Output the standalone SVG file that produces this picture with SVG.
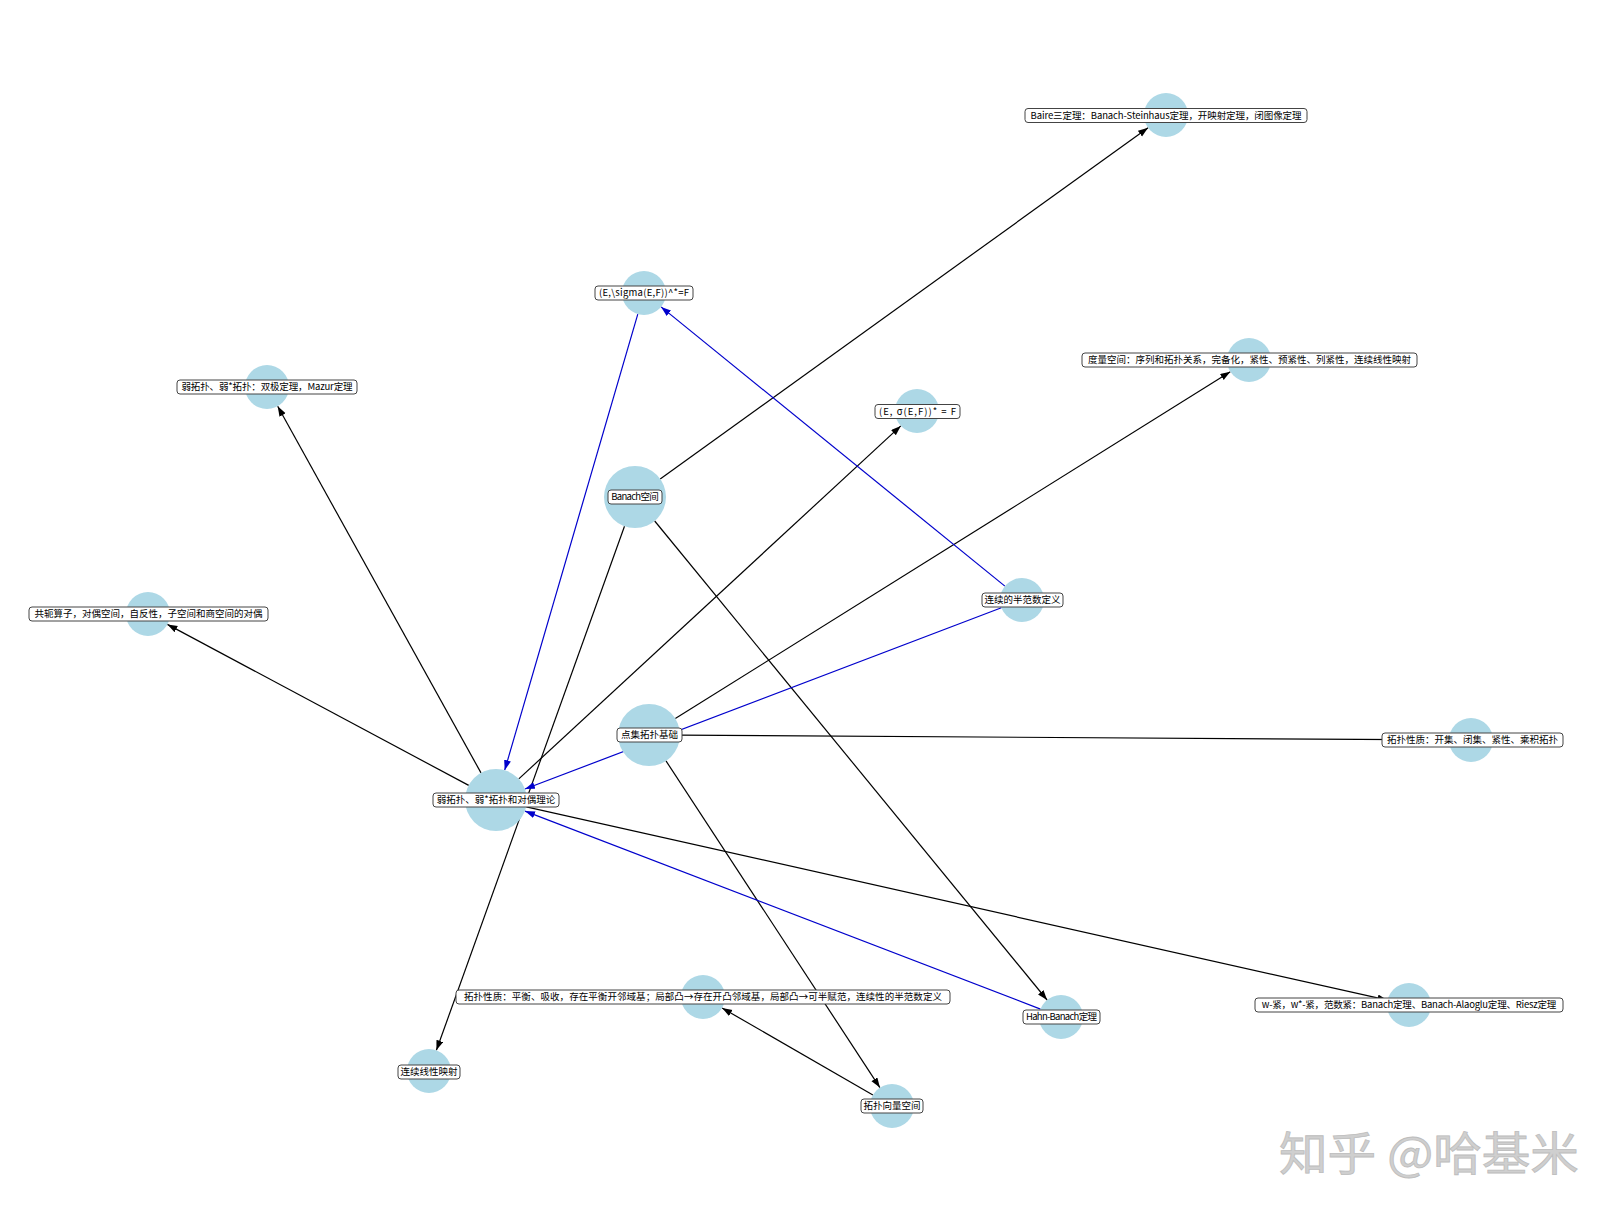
<svg xmlns="http://www.w3.org/2000/svg" width="1620" height="1220" viewBox="0 0 1620 1220">
<style>
.e{stroke:#000;stroke-width:1.2;fill:none;marker-end:url(#ab)}
.b{stroke:#0000cc;stroke-width:1.2;fill:none;marker-end:url(#au)}
.n{fill:#add8e6}
.lb{fill:#fff;stroke:#444;stroke-width:1}
.t{font-family:"Noto Sans CJK SC","Noto Sans CJK JP",sans-serif;font-size:9.5px;fill:#000;text-anchor:middle}
.wm{font-family:"Noto Sans CJK SC",sans-serif;font-size:46px;fill:#cfcfcf;stroke:#bdbdbd;stroke-width:0.8}
</style>
<defs>
<marker id="ab" markerUnits="userSpaceOnUse" markerWidth="11" markerHeight="8" refX="10" refY="3.5" orient="auto"><path d="M0,0 L10,3.5 L0,7 z" fill="#000"/></marker>
<marker id="au" markerUnits="userSpaceOnUse" markerWidth="11" markerHeight="8" refX="10" refY="3.5" orient="auto"><path d="M0,0 L10,3.5 L0,7 z" fill="#0000cc"/></marker>
</defs>
<rect width="1620" height="1220" fill="#fff"/>
<g id="edges">
<line class="e" x1="660.2" y1="478.9" x2="1148.1" y2="127.8"/>
<line class="e" x1="624.5" y1="526.2" x2="436.4" y2="1050.3"/>
<line class="e" x1="654.7" y1="521.0" x2="1047.1" y2="1000.0"/>
<line class="e" x1="481.0" y1="772.9" x2="277.7" y2="406.3"/>
<line class="e" x1="468.7" y1="785.4" x2="167.4" y2="624.4"/>
<line class="e" x1="518.8" y1="778.9" x2="900.8" y2="425.9"/>
<line class="e" x1="675.3" y1="718.6" x2="1230.3" y2="371.7"/>
<line class="e" x1="680" y1="735.2" x2="1449" y2="739.9"/>
<line class="e" x1="666.0" y1="760.9" x2="879.9" y2="1087.6"/>
<line class="e" x1="872.9" y1="1095" x2="722.1" y2="1008"/>
<line class="e" x1="526.3" y1="806.8" x2="1387.5" y2="1000.2"/>
<line class="b" x1="637.8" y1="314.1" x2="504.7" y2="770.2"/>
<line class="b" x1="1004.9" y1="586.1" x2="661.1" y2="306.9"/>
<line class="b" x1="1001.4" y1="607.8" x2="525.0" y2="789.0"/>
<line class="b" x1="1040.5" y1="1009.1" x2="525.0" y2="811.1"/>
</g>
<g id="n-baire"><circle class="n" cx="1166" cy="115" r="22"/><rect class="lb" x="1025" y="108.5" width="282" height="14" rx="3"/><text class="t" x="1166" y="118.8" textLength="271">Baire三定理：Banach-Steinhaus定理，开映射定理，闭图像定理</text></g>
<g id="n-esig1"><circle class="n" cx="644" cy="293" r="22"/><rect class="lb" x="595" y="286" width="98" height="14" rx="3"/><text class="t" x="644" y="296.3" textLength="90">(E,\sigma(E,F))^*=F</text></g>
<g id="n-bipolar"><circle class="n" cx="267" cy="387" r="22"/><rect class="lb" x="177" y="380" width="180" height="14" rx="3"/><text class="t" x="267" y="390.3" textLength="171">弱拓扑、弱*拓扑：双极定理，Mazur定理</text></g>
<g id="n-metric"><circle class="n" cx="1249" cy="360" r="22"/><rect class="lb" x="1082" y="353" width="335" height="14" rx="3"/><text class="t" x="1249.5" y="363.3" textLength="323">度量空间：序列和拓扑关系，完备化，紧性、预紧性、列紧性，连续线性映射</text></g>
<g id="n-esig2"><circle class="n" cx="917" cy="411" r="22"/><rect class="lb" x="875" y="404.5" width="85" height="14" rx="3"/><text class="t" x="917.5" y="414.8" textLength="77">(E, σ(E,F))* = F</text></g>
<g id="n-conj"><circle class="n" cx="148" cy="614" r="22"/><rect class="lb" x="29" y="607" width="239" height="14" rx="3"/><text class="t" x="148.5" y="617.3" textLength="228">共轭算子，对偶空间，自反性，子空间和商空间的对偶</text></g>
<g id="n-banach"><circle class="n" cx="635" cy="497" r="31"/><rect class="lb" x="608" y="490" width="54" height="14" rx="3"/><text class="t" x="635" y="500.3" textLength="47.5">Banach空间</text></g>
<g id="n-semi"><circle class="n" cx="1022" cy="600" r="22"/><rect class="lb" x="982" y="593" width="81" height="14" rx="3"/><text class="t" x="1022.5" y="603.3" textLength="76">连续的半范数定义</text></g>
<g id="n-pt"><circle class="n" cx="649" cy="735" r="31"/><rect class="lb" x="617" y="728" width="65" height="14" rx="3"/><text class="t" x="649.5" y="738.3" textLength="57">点集拓扑基础</text></g>
<g id="n-topopen"><circle class="n" cx="1471" cy="740" r="22"/><rect class="lb" x="1382" y="733" width="181" height="14" rx="3"/><text class="t" x="1472.5" y="743.3" textLength="171">拓扑性质：开集、闭集、紧性、乘积拓扑</text></g>
<g id="n-weak"><circle class="n" cx="496" cy="800" r="31"/><rect class="lb" x="433" y="793" width="126" height="14" rx="3"/><text class="t" x="496" y="803.3" textLength="118.7">弱拓扑、弱*拓扑和对偶理论</text></g>
<g id="n-topbal"><circle class="n" cx="703" cy="997" r="22"/><rect class="lb" x="456" y="990" width="494" height="14" rx="3"/><text class="t" x="703" y="1000.3" textLength="478">拓扑性质：平衡、吸收，存在平衡开邻域基；局部凸→存在开凸邻域基，局部凸→可半赋范，连续性的半范数定义</text></g>
<g id="n-hb"><circle class="n" cx="1061" cy="1017" r="22"/><rect class="lb" x="1023" y="1010" width="77" height="14" rx="3"/><text class="t" x="1061.5" y="1020.3" textLength="71">Hahn-Banach定理</text></g>
<g id="n-wcpt"><circle class="n" cx="1409" cy="1005" r="22"/><rect class="lb" x="1255" y="998" width="308" height="14" rx="3"/><text class="t" x="1409" y="1008.3" textLength="294.5">w-紧，w*-紧，范数紧：Banach定理、Banach-Alaoglu定理、Riesz定理</text></g>
<g id="n-clm"><circle class="n" cx="429" cy="1071" r="22"/><rect class="lb" x="398" y="1065" width="62" height="14" rx="3"/><text class="t" x="429" y="1075.3" textLength="57">连续线性映射</text></g>
<g id="n-tvs"><circle class="n" cx="892" cy="1106" r="22"/><rect class="lb" x="861" y="1099" width="62" height="14" rx="3"/><text class="t" x="892" y="1109.3" textLength="57">拓扑向量空间</text></g>
<text class="wm" x="1279" y="1170" textLength="300" lengthAdjust="spacingAndGlyphs">知乎 @哈基米</text>
</svg>
